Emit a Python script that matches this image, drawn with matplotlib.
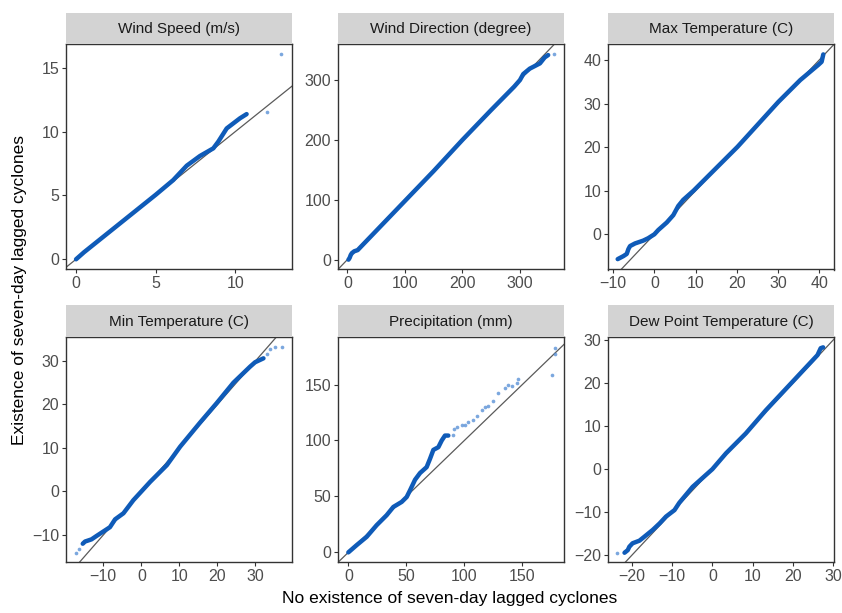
import matplotlib
matplotlib.use("Agg")
import matplotlib.pyplot as plt

plt.rcParams['font.family'] = ['Liberation Sans', 'DejaVu Sans']

titles = ["Wind Speed (m/s)", "Wind Direction (degree)", "Max Temperature (C)",
          "Min Temperature (C)", "Precipitation (mm)", "Dew Point Temperature (C)"]

# dense quantile pairs (x: no cyclone, y: cyclone)
ws_x = [0, 0.5, 1, 2, 3, 4, 5, 6.1, 6.95, 7.78, 8.62, 8.93, 9.46, 9.87, 10.29, 10.71]
ws_y = [0, 0.55, 1.05, 2.05, 3.05, 4.05, 5.05, 6.2, 7.33, 8.09, 8.69, 9.21, 10.25, 10.64, 11.04, 11.37]
ws_ox = [11.97, 12.9]
ws_oy = [11.5, 16.07]

wd_x = [2, 4, 6, 8, 12, 18, 25, 50, 100, 150, 200, 250, 290, 300, 305.7, 317, 334.7, 343, 349]
wd_y = [0, 3, 8, 11, 14, 16, 23, 48, 98, 148, 200, 250, 289, 300, 310, 319, 327.8, 337.8, 341.7]
wd_ox = [359.6]
wd_oy = [343.4]

mx_x = [-8.9, -7.5, -6.7, -6.3, -5.9, -4.7, -2.7, -1.5, 0, 0.97, 3.0, 4.6, 5.8, 7.0, 9.5, 20.2, 30.1, 35.4, 39.8, 40.6, 41.0]
mx_y = [-5.7, -5.0, -4.5, -3.4, -2.7, -2.1, -1.45, -0.9, 0, 1.0, 2.7, 4.4, 6.5, 7.9, 10.0, 20.1, 30.4, 35.4, 38.9, 39.6, 41.3]
mx_ox = []
mx_oy = []

mn_x = [-15.4, -14.8, -13.1, -11.75, -10.0, -8.25, -6.9, -4.7, -2.1, 0, 2.3, 6.7, 10.2, 15.4, 19.8, 24.2, 28.6, 29.9, 32.1]
mn_y = [-12.0, -11.5, -11.0, -10.2, -9.2, -8.2, -6.4, -5.0, -2.0, 0, 2.2, 6.05, 10.3, 15.8, 20.3, 25.0, 28.7, 29.7, 30.6]
mn_ox = [-17.2, -16.3, 33.0, 33.9, 35.2, 36.9]
mn_oy = [-14.1, -13.1, 31.7, 32.7, 33.1, 33.3]

pr_x = [0, 7.2, 15.8, 24.4, 33, 38.8, 46, 50.3, 53.2, 57.5, 61.8, 67.5, 70.4, 73.3, 77.6, 80.5, 83.3, 86.2]
pr_y = [0, 6.5, 13.9, 24.3, 33.2, 40.6, 45.1, 49.5, 55.5, 64.9, 70.9, 76.2, 83.6, 91.6, 94, 100, 104.4, 104.4]
pr_ox = [90, 91, 93.4, 97.7, 100.6, 103.4, 107.8, 110.6, 114.9, 117.8, 120.7, 125, 129.3, 135, 138, 140.8, 145.1, 146, 175.9, 178.2, 178.2]
pr_oy = [105, 110.4, 112.4, 114.2, 114.2, 116.3, 118.3, 122.2, 127.5, 129.6, 131.1, 135.5, 142.3, 146.8, 149.5, 148.9, 151.2, 154.8, 158.7, 177, 183]

dp_x = [-21.8, -21.0, -20.6, -19.8, -18.1, -16.9, -14.8, -13.1, -11.5, -9.4, -8.2, -4.9, 0, 3.4, 8.3, 13.3, 19.9, 24.9, 26.1, 26.9, 27.5]
dp_y = [-19.4, -18.8, -18.0, -17.2, -16.6, -15.7, -14.1, -12.6, -11.0, -9.5, -7.8, -4.1, 0, 3.7, 8.3, 13.7, 20.3, 25.3, 26.5, 28.1, 28.3]
dp_ox = [-23.6]
dp_oy = [-19.4]

xticks = [[0, 5, 10], [0, 100, 200, 300], [-10, 0, 10, 20, 30, 40],
          [-10, 0, 10, 20, 30], [0, 50, 100, 150], [-20, -10, 0, 10, 20, 30]]
yticks = [[0, 5, 10, 15], [0, 100, 200, 300], [0, 10, 20, 30, 40],
          [-10, 0, 10, 20, 30], [0, 50, 100, 150], [-20, -10, 0, 10, 20, 30]]

dense = [(ws_x, ws_y), (wd_x, wd_y), (mx_x, mx_y), (mn_x, mn_y), (pr_x, pr_y), (dp_x, dp_y)]
sparse = [(ws_ox, ws_oy), (wd_ox, wd_oy), (mx_ox, mx_oy), (mn_ox, mn_oy), (pr_ox, pr_oy), (dp_ox, dp_oy)]

xlims = [(-0.63, 13.56), (-16.2, 376.5), (-11.25, 43.6), (-19.8, 39.6), (-8.9, 185.9), (-25.9, 30.2)]
ylims = [(-0.8, 16.9), (-16.4, 361), (-8.08, 43.8), (-16.2, 35.5), (-8.6, 192.5), (-21.55, 30.7)]

W, H = 842, 613
fig = plt.figure(figsize=(W / 100, H / 100), dpi=100)

col_l = [66, 338, 608]
pw = 226
rows = [(12.5, 43.5, 269.5), (305, 337, 562)]

DENSE = '#0f5bb8'
SPARSE = '#4f8ad3'

for i in range(6):
    r, c = divmod(i, 3)
    st, pt, pb = rows[r]
    left = col_l[c]
    ax = fig.add_axes([left / W, 1 - pb / H, pw / W, (pb - pt) / H])
    sax = fig.add_axes([left / W, 1 - pt / H, pw / W, (pt - st) / H])
    sax.set_facecolor('#d3d3d3')
    for s in sax.spines.values():
        s.set_visible(False)
    sax.set_xticks([]); sax.set_yticks([])
    sax.text(0.5, 0.48, titles[i], ha='center', va='center', fontsize=11,
             color='#1a1a1a', transform=sax.transAxes)

    ax.set_xlim(*xlims[i]); ax.set_ylim(*ylims[i])
    ax.axline((0, 0), slope=1, color='#5a5a5a', lw=0.9, zorder=1)
    dx, dy = dense[i]
    ax.plot(dx, dy, color=DENSE, lw=3.2, solid_capstyle='round',
            solid_joinstyle='round', zorder=3)
    ox, oy = sparse[i]
    if ox:
        ax.scatter(ox, oy, s=7, color=SPARSE, alpha=0.75, lw=0, zorder=3)
    ax.set_xticks(xticks[i]); ax.set_yticks(yticks[i])
    ax.tick_params(length=3, width=0.8, color='#333333', labelsize=11.5,
                   labelcolor='#4d4d4d', pad=2)
    for s in ax.spines.values():
        s.set_color('#333333'); s.set_linewidth(1.0)

fig.text(20 / W, 1 - 290 / H, "Existence of seven-day lagged cyclones", rotation=90,
         ha='center', va='center', fontsize=12.5, color='black')
fig.text(450 / W, 1 - 598 / H, "No existence of seven-day lagged cyclones",
         ha='center', va='center', fontsize=12.5, color='black')

fig.savefig('out.png', dpi=100)
